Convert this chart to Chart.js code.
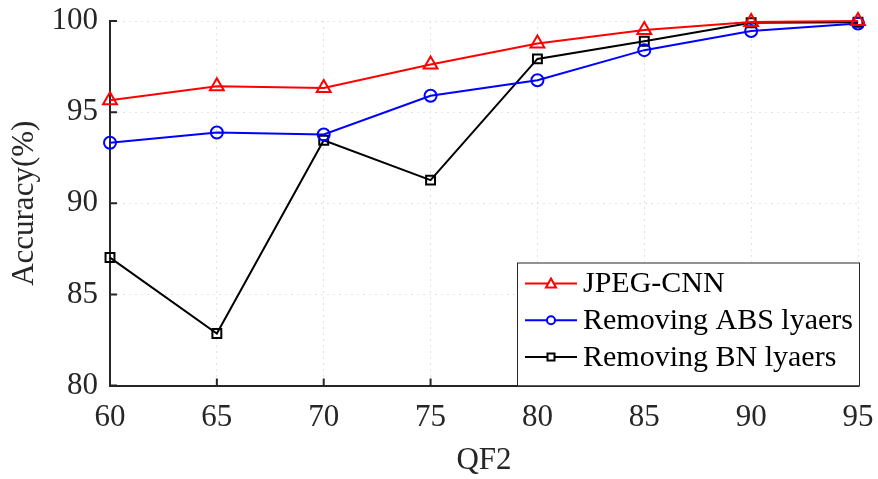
<!DOCTYPE html>
<html>
<head>
<meta charset="utf-8">
<script src="https://cdn.jsdelivr.net/npm/chart.js@4.4.0/dist/chart.umd.min.js"></script>
<style>
  html, body { margin: 0; padding: 0; background: #fff; }
  #wrap { width: 878px; height: 479px; }
</style>
</head>
<body>
<div id="wrap"><canvas id="chart" width="878" height="479"></canvas></div>
<script>
const qf2 = [60, 65, 70, 75, 80, 85, 90, 95];
const jpegCnn = [95.65, 96.42, 96.33, 97.61, 98.76, 99.5, 99.95, 100];
const noAbs = [93.32, 93.88, 93.77, 95.9, 96.75, 98.4, 99.45, 99.86];
const noBn = [87.02, 82.85, 93.46, 91.27, 97.92, 98.89, 99.9, 99.93];
const seriesNames = ['JPEG-CNN', 'Removing ABS lyaers', 'Removing BN lyaers'];

const FONT = '"Liberation Serif", "Times New Roman", serif';
const AXIS = '#262626';
const FS = 31;

function pts(vals) {
  return qf2.map((x, i) => ({ x, y: vals[i] }));
}

// inward tick marks like matlab
const innerTicks = {
  id: 'innerTicks',
  afterDraw(c) {
    const ctx = c.ctx;
    const a = c.chartArea;
    const xs = c.scales.x, ys = c.scales.y;
    ctx.save();
    ctx.strokeStyle = AXIS;
    ctx.lineWidth = 2;
    ctx.beginPath();
    xs.ticks.forEach(t => {
      const px = xs.getPixelForValue(t.value);
      ctx.moveTo(px, a.bottom);
      ctx.lineTo(px, a.bottom - 7);
    });
    ys.ticks.forEach(t => {
      const py = ys.getPixelForValue(t.value);
      ctx.moveTo(a.left, py);
      ctx.lineTo(a.left + 7, py);
    });
    ctx.stroke();
    ctx.restore();
  }
};

// legend box inside the plot, lower right
const boxLegend = {
  id: 'boxLegend',
  afterDraw(c) {
    const ctx = c.ctx;
    const a = c.chartArea;
    const w = 342, h = 123;
    const x0 = a.right + 1 - w, y0 = a.bottom - h;
    ctx.save();
    ctx.fillStyle = '#fff';
    ctx.fillRect(x0, y0, w, h);
    ctx.strokeStyle = AXIS;
    ctx.lineWidth = 1;
    ctx.strokeRect(x0 + 0.5, y0 + 0.5, w, h);
    ctx.font = '30px ' + FONT;
    ctx.textBaseline = 'middle';
    c.data.datasets.forEach((ds, i) => {
      const y = y0 + 21 + i * 36.7;
      ctx.strokeStyle = ds.borderColor;
      ctx.lineWidth = 2;
      ctx.beginPath();
      ctx.moveTo(x0 + 8, y);
      ctx.lineTo(x0 + 60, y);
      ctx.stroke();
      ctx.beginPath();
      const cx = x0 + 34;
      if (ds.pointStyle === 'triangle') {
        ctx.moveTo(cx, y - 5);
        ctx.lineTo(cx + 5, y + 4);
        ctx.lineTo(cx - 5, y + 4);
        ctx.closePath();
      } else if (ds.pointStyle === 'circle') {
        ctx.arc(cx, y, 4, 0, Math.PI * 2);
      } else {
        ctx.rect(cx - 3.5, y - 3.5, 7, 7);
      }
      ctx.fillStyle = '#fff';
      ctx.fill();
      ctx.stroke();
      ctx.fillStyle = '#000';
      ctx.fillText(ds.label, x0 + 66, y + 1);
    });
    ctx.restore();
  }
};

function line(label, vals, color, style, radius) {
  return {
    label,
    data: pts(vals),
    borderColor: color,
    backgroundColor: 'transparent',
    borderWidth: 2,
    pointStyle: style,
    pointRadius: radius,
    pointBorderWidth: 2,
    pointBackgroundColor: 'transparent',
    pointBorderColor: color,
    tension: 0,
    clip: false
  };
}

new Chart(document.getElementById('chart'), {
  type: 'line',
  data: {
    datasets: [
      line(seriesNames[0], jpegCnn, '#ff0000', 'triangle', 8),
      line(seriesNames[1], noAbs, '#0000ff', 'circle', 6),
      line(seriesNames[2], noBn, '#000000', 'rect', 6.3)
    ]
  },
  options: {
    responsive: false,
    animation: false,
    layout: { padding: { left: 0, top: 21, right: 20, bottom: 0 } },
    plugins: { legend: { display: false }, tooltip: { enabled: false } },
    scales: {
      x: {
        type: 'linear',
        min: 60, max: 95,
        afterFit(s) { s.height = 93.5; s.paddingLeft = 0; s.paddingRight = 0; },
        ticks: { stepSize: 5, color: '#262626', font: { family: FONT, size: FS }, padding: 14 },
        grid: { color: '#e3e3e3', lineWidth: 1, drawTicks: false },
        border: { display: true, color: AXIS, width: 2, dash: [2, 4] },
        title: { display: true, text: 'QF2', color: '#262626', font: { family: FONT, size: FS }, padding: { top: 0, bottom: 0 } }
      },
      y: {
        min: 80, max: 100,
        afterFit(s) { s.width = 110; s.paddingTop = 0; s.paddingBottom = 0; },
        ticks: { stepSize: 5, color: '#262626', font: { family: FONT, size: FS }, padding: 12 },
        grid: { color: '#e3e3e3', lineWidth: 1, drawTicks: false },
        border: { display: true, color: AXIS, width: 2, dash: [2, 4] },
        title: { display: true, text: 'Accuracy(%)', color: '#262626', font: { family: FONT, size: FS }, padding: { top: 6, bottom: 0 } }
      }
    }
  },
  plugins: [innerTicks, boxLegend]
});
</script>
</body>
</html>
